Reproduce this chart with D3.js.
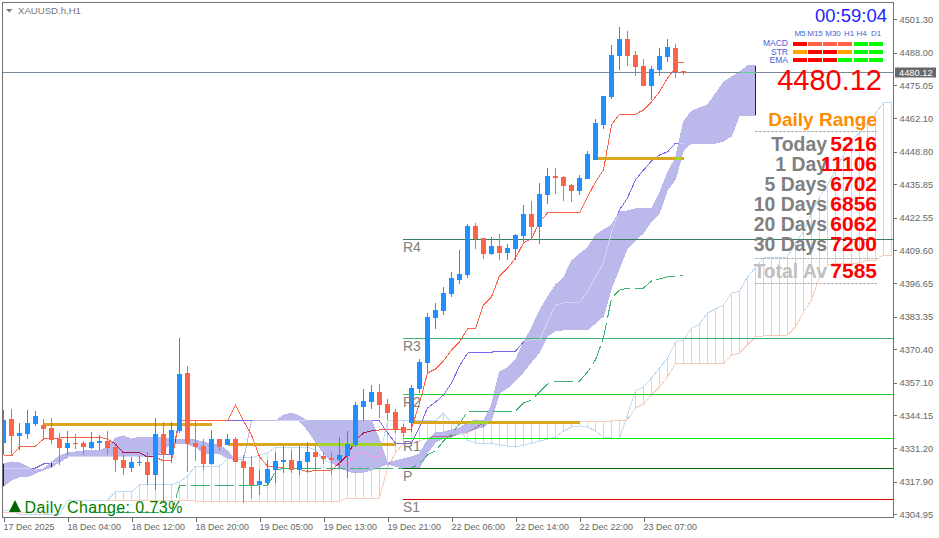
<!DOCTYPE html>
<html><head><meta charset="utf-8">
<script src="https://cdn.jsdelivr.net/npm/d3@7"></script>
<style>
html,body{margin:0;padding:0;background:#fff;overflow:hidden}
svg{display:block}
text{font-family:"Liberation Sans",Arial,sans-serif}
.axis text{fill:#666;font-size:9.3px}
.axis.bottom text{font-size:9px}
.axis line{stroke:#707070;shape-rendering:crispEdges}
</style></head><body>
<script>
const symbolTitle = "XAUUSD.h,H1";
const dailyChange = "Daily Change: 0.73%";
const timerText = "00:59:04";
const lastPrice = 4480.12;
const yTicks = [4501.30,4488.00,4475.05,4462.10,4448.80,4435.85,4422.55,4409.60,4396.65,4383.35,4370.40,4357.10,4344.15,4331.20,4317.90,4304.95];
const xTickIndex = [0,8,16,24,32,40,48,56,64,72,80];
const xTickLabels = ["17 Dec 2025","18 Dec 04:00","18 Dec 12:00","18 Dec 20:00","19 Dec 05:00","19 Dec 13:00","19 Dec 21:00","22 Dec 06:00","22 Dec 14:00","22 Dec 22:00","23 Dec 07:00"];

const opens = [4333.2,4342.8,4336.0,4336.8,4340.8,4340.4,4339.2,4334.8,4331.3,4333.2,4333.2,4331.3,4333.2,4334.0,4331.7,4326.5,4323.3,4325.3,4325.7,4320.5,4336.8,4328.5,4338.0,4361.0,4333.2,4332.0,4324.9,4334.8,4332.4,4334.8,4326.1,4323.7,4316.6,4317.4,4322.5,4325.7,4326.5,4322.5,4325.7,4329.7,4328.1,4327.3,4326.5,4328.1,4332.4,4347.5,4349.5,4353.5,4348.7,4345.5,4339.6,4341.2,4354.7,4365.0,4382.8,4385.6,4392.3,4397.9,4399.9,4419.3,4414.6,4408.2,4411.4,4408.6,4410.2,4415.3,4424.1,4418.9,4431.6,4439.1,4438.7,4435.6,4433.2,4438.0,4445.5,4459.4,4470.5,4486.8,4493.5,4487.2,4482.8,4474.9,4481.2,4486.4,4489.9,4480.8];
const highs = [4346.3,4346.7,4341.2,4346.3,4345.9,4342.8,4343.1,4337.2,4338.0,4336.8,4334.0,4337.6,4336.4,4338.0,4332.4,4328.9,4327.7,4328.1,4329.7,4343.1,4341.6,4341.6,4374.9,4363.8,4342.0,4334.8,4338.4,4334.8,4336.8,4335.6,4328.5,4328.1,4322.5,4326.5,4329.7,4332.0,4330.5,4332.0,4333.6,4332.0,4329.7,4329.7,4335.6,4338.0,4349.5,4354.7,4356.2,4356.6,4350.7,4346.7,4340.8,4356.2,4366.6,4384.8,4388.8,4395.1,4401.1,4409.8,4420.1,4420.5,4414.6,4415.0,4416.1,4412.2,4416.1,4427.6,4429.2,4436.4,4442.3,4442.3,4439.1,4436.0,4439.5,4449.1,4461.8,4470.9,4491.1,4498.2,4496.7,4488.7,4485.6,4482.8,4489.9,4493.5,4491.5,4480.8];
const lows = [4328.5,4328.1,4330.5,4334.8,4340.0,4334.8,4332.8,4324.5,4328.5,4330.8,4328.5,4330.8,4330.5,4328.5,4321.7,4320.5,4321.7,4324.1,4316.6,4314.6,4309.4,4325.3,4337.2,4321.7,4326.1,4322.5,4324.5,4330.1,4332.4,4325.7,4309.4,4311.4,4312.6,4316.6,4317.4,4321.3,4321.3,4320.5,4321.7,4322.5,4324.9,4320.5,4323.3,4319.4,4331.7,4342.0,4346.7,4343.1,4342.4,4337.2,4335.6,4337.6,4353.1,4361.0,4378.5,4384.0,4391.2,4396.3,4398.7,4410.2,4406.2,4407.8,4405.8,4405.8,4405.8,4413.0,4413.8,4412.2,4428.0,4432.0,4429.2,4428.8,4431.6,4438.0,4445.5,4457.8,4469.7,4481.2,4482.8,4478.8,4474.9,4469.3,4478.8,4484.4,4478.0,4479.2];
const closes = [4342.4,4336.0,4337.2,4341.2,4343.9,4338.8,4334.4,4331.3,4333.2,4332.8,4331.7,4333.6,4334.0,4331.3,4326.5,4323.3,4325.7,4325.7,4320.5,4336.8,4328.5,4338.4,4360.6,4332.8,4331.7,4324.9,4334.8,4331.7,4334.8,4325.7,4323.3,4316.6,4318.2,4322.9,4326.1,4326.5,4322.5,4326.1,4329.7,4327.7,4326.9,4326.5,4328.5,4332.8,4348.3,4349.9,4353.5,4348.3,4345.1,4338.8,4337.2,4355.1,4365.4,4383.2,4386.0,4392.7,4398.7,4400.3,4419.3,4414.2,4408.2,4411.4,4408.6,4410.6,4415.7,4424.1,4418.9,4432.0,4439.1,4438.4,4435.2,4433.2,4438.4,4447.9,4460.2,4470.9,4487.2,4493.5,4486.8,4482.4,4474.9,4481.6,4486.8,4490.3,4480.4,4480.1];

const tenkan = [4328.1,4328.1,4331.6,4332.0,4332.0,4334.8,4335.2,4335.2,4335.6,4335.6,4335.6,4335.6,4335.6,4334.8,4332.8,4329.3,4329.3,4329.3,4327.7,4327.7,4326.1,4326.1,4342.0,4342.0,4342.0,4342.0,4342.0,4342.0,4342.0,4348.3,4342.0,4336.4,4327.7,4324.1,4323.7,4323.3,4323.3,4322.9,4321.7,4322.5,4322.5,4322.5,4325.3,4328.5,4334.4,4337.2,4338.0,4338.4,4338.4,4338.4,4338.4,4338.8,4349.1,4361.0,4362.6,4365.8,4370.1,4373.3,4378.5,4378.8,4388.0,4391.2,4399.5,4402.6,4406.6,4412.6,4414.2,4420.9,4424.5,4424.5,4424.5,4424.5,4424.5,4430.8,4436.8,4441.5,4459.4,4463.7,4463.7,4463.7,4465.3,4468.5,4472.5,4478.0,4482.0];
const kijun = [4323.3,4323.3,4323.3,4323.3,4323.3,4324.9,4325.3,4325.7,4327.7,4327.7,4327.7,4327.7,4327.7,4327.7,4327.7,4327.7,4327.7,4327.7,4327.7,4328.5,4328.5,4328.5,4342.0,4342.0,4342.0,4342.0,4342.0,4342.0,4342.0,4342.0,4342.0,4342.0,4342.0,4342.0,4342.0,4342.0,4342.0,4342.0,4342.0,4342.0,4342.0,4342.0,4342.0,4342.0,4342.0,4342.0,4342.0,4342.0,4337.2,4333.2,4333.2,4333.2,4339.6,4347.1,4349.5,4352.3,4357.0,4363.8,4368.9,4369.3,4369.3,4369.3,4369.5,4369.5,4369.7,4373.3,4374.1,4374.1,4381.2,4388.0,4388.8,4388.8,4389.2,4393.1,4399.1,4404.6,4416.9,4425.7,4430.4,4437.6,4441.5,4445.1,4447.5,4448.7,4452.2,4452.2];
const kijunBlendedBars = [32,45];
const chikouStart = 11;
const chikou = [4305.5,4305.5,4305.5,4305.5,4305.5,4305.5,4305.5,4305.5,4305.5,4305.5,4305.5,4316.2,4316.2,4316.2,4316.2,4316.2,4316.2,4316.2,4316.2,4316.2,4316.2,4316.2,4316.2,4322.1,4323.3,4323.3,4323.3,4323.3,4323.3,4323.3,4323.3,4323.3,4323.3,4323.3,4323.3,4323.3,4323.3,4323.3,4323.3,4323.3,4323.3,4324.9,4328.5,4330.1,4334.0,4336.8,4340.8,4345.9,4345.9,4345.9,4345.9,4345.9,4345.9,4345.9,4349.1,4350.3,4353.5,4356.6,4357.8,4357.8,4357.8,4357.8,4361.4,4366.2,4374.9,4390.7,4393.9,4394.7,4394.7,4394.7,4397.5,4398.3,4399.1,4399.5,4399.9];

const cloudTop = [4324.9,4325.7,4325.3,4323.7,4322.5,4322.9,4325.7,4328.1,4329.3,4329.7,4330.1,4330.1,4330.1,4331.6,4335.2,4336.0,4334.8,4335.6,4335.6,4335.6,4335.2,4334.8,4334.8,4334.8,4334.4,4333.6,4332.8,4332.4,4330.1,4326.5,4326.5,4342.0,4342.0,4342.0,4342.0,4344.3,4345.1,4343.9,4342.0,4342.0,4342.0,4342.0,4342.0,4342.0,4342.0,4342.0,4342.0,4334.4,4325.3,4326.1,4326.9,4327.7,4328.9,4334.4,4337.2,4337.6,4338.4,4339.2,4341.2,4342.4,4342.0,4348.3,4361.4,4363.0,4366.2,4372.9,4378.8,4385.6,4391.1,4395.9,4398.7,4405.4,4408.2,4410.6,4415.7,4417.7,4419.7,4424.9,4425.3,4426.1,4426.1,4426.1,4432.4,4440.3,4446.3,4460.6,4464.9,4466.1,4467.3,4471.7,4476.4,4478.4,4480.4,4482.8,4482.8];
const cloudBottom = [4316.2,4318.6,4319.8,4319.8,4321.3,4322.5,4323.7,4325.7,4327.7,4327.7,4327.7,4327.7,4327.7,4327.7,4327.7,4327.7,4327.7,4327.7,4327.7,4327.7,4330.5,4333.2,4333.2,4332.8,4331.7,4329.3,4328.9,4328.9,4327.3,4326.5,4326.5,4342.0,4342.0,4342.0,4342.0,4342.0,4342.0,4342.0,4338.4,4333.6,4329.3,4325.7,4323.3,4322.1,4321.3,4321.7,4322.5,4323.7,4324.9,4324.1,4323.3,4323.3,4323.3,4329.3,4333.6,4335.2,4335.6,4337.2,4337.6,4338.8,4339.6,4342.4,4353.1,4355.1,4358.2,4361.4,4365.4,4369.3,4375.7,4377.7,4378.1,4378.1,4378.1,4378.1,4380.8,4383.6,4394.7,4402.7,4410.6,4413.8,4416.5,4421.3,4424.5,4433.6,4437.9,4449.5,4452.2,4452.2,4452.2,4452.2,4453.0,4455.0,4463.3,4463.3,4463.3];
const cloudEdgeBars = [0,6,94];

const hatchA = [4306.3,4306.3,4304.7,4304.7,4304.7,4304.7,4304.7,4304.7,4310.6,4310.6,4310.6,4310.6,4310.6,4310.6,4313.8,4313.8,4313.8,4316.6,4316.6,4316.6,4316.6,4316.6,4317.8,4320.1,4324.1,4324.1,4324.1,4324.1,4326.9,4327.7,4327.3,4327.3,4328.5,4329.3,4331.6,4331.6,4331.6,4331.6,4331.6,4330.5,4326.5,4325.3,4324.5,4325.3,4328.5,4329.7,4327.7,4327.7,4342.0,4342.0,4342.0,4342.0,4342.0,4342.0,4342.0,4345.1,4341.2,4338.4,4334.4,4333.2,4333.2,4333.2,4332.4,4332.0,4331.6,4332.4,4333.2,4334.0,4334.8,4335.6,4338.0,4339.6,4340.0,4339.6,4338.0,4335.6,4335.2,4335.2,4344.4,4353.9,4355.5,4359.0,4363.0,4366.9,4373.3,4374.1,4378.8,4380.4,4384.8,4386.4,4388.0,4392.7,4393.5,4399.1,4402.7,4406.6,4407.0,4407.0,4407.0,4412.6,4417.0,4424.5,4430.8,4435.6,4441.5,4447.5,4453.4,4456.2,4460.2,4464.1,4468.1,4468.1];
const hatchB = [4305.5,4305.5,4305.5,4305.5,4305.5,4305.5,4304.7,4304.7,4310.6,4310.6,4310.6,4310.6,4310.6,4310.6,4310.6,4310.6,4310.6,4310.6,4310.6,4310.6,4310.6,4310.6,4310.6,4310.6,4310.2,4310.2,4310.2,4310.2,4310.2,4310.2,4310.2,4310.2,4310.2,4310.2,4310.2,4310.2,4310.2,4310.2,4310.2,4310.2,4310.2,4310.2,4310.2,4311.4,4311.4,4311.4,4311.4,4311.4,4323.3,4329.3,4333.2,4333.2,4334.0,4335.2,4336.0,4336.0,4336.0,4336.8,4337.2,4339.2,4341.2,4341.6,4341.6,4341.6,4341.6,4341.6,4341.6,4341.6,4341.6,4341.6,4341.6,4341.6,4341.6,4341.6,4341.6,4341.6,4342.0,4342.0,4342.4,4347.1,4348.7,4352.3,4355.5,4359.4,4364.6,4364.6,4364.6,4364.6,4364.6,4364.6,4364.6,4368.1,4368.9,4372.1,4375.3,4375.7,4375.7,4375.7,4376.1,4379.2,4385.2,4390.0,4399.1,4403.8,4404.6,4404.6,4404.6,4404.6,4405.8,4405.8,4407.8,4407.8];

const rangeSegStart = [5,28,51,74];
const rangeSegEnd = [26,49,72,85];
const rangeSegPrice = [4340.4,4332.8,4341.4,4445.9];
const prevCloseTick = {from:84,to:85,price:4484.0};

const pivotNames = ["R4","R3","R2","R1","P","S1"];
const pivotPrices = [4413.9,4374.6,4352.6,4335.2,4323.3,4310.8];
const pivotColors = ["#3a7d5e","#3cb371","#32cd32","#00f000","#006400","#e00000"];
const pivotStartBar = 50;

const tfLabels = ["M5","M15","M30","H1","H4","D1"];
const tfLabelX = [800,815,833,849,861.5,876];
const tfBarX = [793,808,823,838,854,869];
const rowLabels = ["MACD","STR","EMA"];
const macdColors = ["#ff0000","#ff6347","#ff6347","#ff6347","#00ff00","#00ff00"];
const strColors = ["#ffa500","#ff0000","#ff0000","#ffa500","#00ff00","#00ff00"];
const emaColors = ["#ff0000","#ff0000","#ff0000","#00ff00","#00ff00","#00ff00"];

const rangeLabels = ["Today","1 Day","5 Days","10 Days","20 Days","30 Days"];
const rangeValues = [5216,11106,6702,6856,6062,7200];
const totalLabel = "Total Av";
const totalValue = 7585;

const W=939,H=538,L=2.5,R=893.5,T=2.5,B=517.5;
const x = d3.scaleLinear().domain([0,111]).range([3.5,891.5]);
const y = d3.scaleLinear().domain([4501.30,4304.95]).range([19.3,514.3]);
const svg = d3.select("body").append("svg").attr("width",W).attr("height",H);
const defs = svg.append("defs");
defs.append("clipPath").attr("id","plot").append("rect").attr("x",L).attr("y",T).attr("width",R-L).attr("height",B-T);

const cloudArea = d3.area().x((d,i)=>x(i)).y0((d,i)=>y(cloudBottom[i])).y1(d=>y(d));
defs.append("clipPath").attr("id","cloud").append("path").attr("d",cloudArea(cloudTop));

const plot = svg.append("g").attr("clip-path","url(#plot)");
const lineOf = (start=0)=>d3.line().x((d,i)=>x(i+start)).y(d=>y(d));

function drawHatch(g,colA,colB,colUp,colDown){
  g.selectAll("line").data(hatchA).join("line")
    .attr("x1",(d,i)=>x(i)).attr("x2",(d,i)=>x(i))
    .attr("y1",d=>y(d)).attr("y2",(d,i)=>y(hatchB[i]))
    .attr("stroke",(d,i)=>d>=hatchB[i]?colUp:colDown)
    .attr("shape-rendering","crispEdges");
  g.append("path").attr("d",lineOf()(hatchB)).attr("fill","none").attr("stroke",colB).attr("shape-rendering","crispEdges");
  g.append("path").attr("d",lineOf()(hatchA)).attr("fill","none").attr("stroke",colA).attr("shape-rendering","crispEdges");
}
drawHatch(plot.append("g"),"#bcdcf8","#f6ccba","#bcdcf8","#f6ccba");

plot.append("path").attr("d",cloudArea(cloudTop)).attr("fill","#bbb8ec").attr("stroke","#bbb8ec")
  .attr("stroke-width",1).attr("shape-rendering","crispEdges");

plot.selectAll(".cedge").data(cloudEdgeBars).join("line").attr("class","cedge")
  .attr("x1",d=>x(d)).attr("x2",d=>x(d)).attr("y1",d=>y(cloudTop[d])).attr("y2",d=>y(cloudBottom[d]))
  .attr("stroke","#222").attr("shape-rendering","crispEdges");

const kijunLine = lineOf().defined((d,i)=>i<kijunBlendedBars[0]||i>kijunBlendedBars[1]);
plot.append("path").attr("d",kijunLine(kijun)).attr("fill","none").attr("stroke","#7b68ee").attr("shape-rendering","crispEdges");
plot.append("path").attr("d",lineOf()(tenkan)).attr("fill","none").attr("stroke","#ff6347").attr("shape-rendering","crispEdges");
plot.append("path").attr("d",lineOf(chikouStart)(chikou)).attr("fill","none").attr("stroke","#3cb371")
  .attr("stroke-dasharray","19 5").attr("shape-rendering","crispEdges");

// pivot lines
plot.append("g").selectAll("line").data(pivotPrices).join("line")
  .attr("x1",x(pivotStartBar)-0.5).attr("x2",R).attr("y1",d=>y(d)).attr("y2",d=>y(d))
  .attr("stroke",(d,i)=>pivotColors[i]).attr("shape-rendering","crispEdges");

// range segments
plot.selectAll(".seg").data(rangeSegPrice).join("line").attr("class","seg")
  .attr("x1",(d,i)=>x(rangeSegStart[i])).attr("x2",(d,i)=>x(rangeSegEnd[i]))
  .attr("y1",d=>y(d)).attr("y2",d=>y(d)).attr("stroke","#daa520").attr("stroke-width",3).attr("shape-rendering","crispEdges");

// marks as they blend where they cross the cloud
const inCloud = plot.append("g").attr("clip-path","url(#cloud)");
drawHatch(inCloud.append("g"),"#ee9fe8","#b0708c","#ee9fe8","#b0708c");
inCloud.append("path").attr("d",lineOf()(kijun)).attr("fill","none").attr("stroke","#d6d4f6").attr("shape-rendering","crispEdges");
inCloud.append("path").attr("d",lineOf()(tenkan)).attr("fill","none").attr("stroke","#a8174f").attr("shape-rendering","crispEdges");
inCloud.selectAll(".seg2").data(rangeSegPrice).join("line").attr("class","seg2")
  .attr("x1",(d,i)=>x(rangeSegStart[i])).attr("x2",(d,i)=>x(rangeSegEnd[i]))
  .attr("y1",d=>y(d)).attr("y2",d=>y(d)).attr("stroke","#a4d42c").attr("stroke-width",3).attr("shape-rendering","crispEdges");

// price line
plot.append("line").attr("x1",L).attr("x2",R).attr("y1",y(lastPrice)).attr("y2",y(lastPrice))
  .attr("stroke","#778899").attr("shape-rendering","crispEdges");
plot.append("line").attr("x1",x(92)).attr("x2",x(94)).attr("y1",y(lastPrice)).attr("y2",y(lastPrice))
  .attr("stroke","#5fd58f").attr("shape-rendering","crispEdges");

// candles
const up = i=>closes[i]>=opens[i];
const candleColor = i=>up(i)?"#1e90ff":"#ff6347";
const cg = plot.append("g").attr("shape-rendering","crispEdges");
cg.selectAll(".wick").data(opens).join("rect").attr("class","wick")
  .attr("x",(d,i)=>x(i)-0.5).attr("width",1)
  .attr("y",(d,i)=>y(highs[i])).attr("height",(d,i)=>y(lows[i])-y(highs[i]))
  .attr("fill",(d,i)=>candleColor(i));
cg.selectAll(".body").data(opens).join("rect").attr("class","body")
  .attr("x",(d,i)=>x(i)-2.5).attr("width",5)
  .attr("y",(d,i)=>y(Math.max(d,closes[i])))
  .attr("height",(d,i)=>Math.max(1,Math.abs(y(d)-y(closes[i]))))
  .attr("fill",(d,i)=>candleColor(i));
plot.append("line").attr("x1",x(prevCloseTick.from)).attr("x2",x(prevCloseTick.to))
  .attr("y1",y(prevCloseTick.price)).attr("y2",y(prevCloseTick.price))
  .attr("stroke","#ff6347").attr("shape-rendering","crispEdges");

// pivot labels
svg.append("g").selectAll("text").data(pivotNames).join("text")
  .attr("x",x(pivotStartBar)-0.5).attr("y",(d,i)=>y(pivotPrices[i])+12.5)
  .attr("fill","#808080").attr("font-size",14).text(d=>d);

// frame
svg.append("rect").attr("x",L).attr("y",T).attr("width",R-L).attr("height",B-T)
  .attr("fill","none").attr("stroke","#707070").attr("shape-rendering","crispEdges");

// axes
const yAxis = d3.axisRight(y).tickValues(yTicks).tickSize(3).tickPadding(3).tickFormat(d3.format(".2f"));
const ag = svg.append("g").attr("class","axis").attr("transform",`translate(${R},0)`).call(yAxis);
ag.select(".domain").remove();
const xAxis = d3.axisBottom(x).tickValues(xTickIndex).tickSize(4).tickPadding(2).tickFormat((d,i)=>xTickLabels[i]);
const bg = svg.append("g").attr("class","axis bottom").attr("transform",`translate(0,${B})`).call(xAxis);
bg.select(".domain").remove();
bg.selectAll("text").attr("text-anchor","start").attr("dx",-0.5);

svg.append("rect").attr("x",895).attr("y",67.5).attr("width",41).attr("height",10).attr("fill","#696969");
svg.append("text").attr("x",899).attr("y",76).attr("fill","#fff").attr("font-size",9.3).text(lastPrice.toFixed(2));

// title
svg.append("path").attr("d",d3.line()([[6,9],[12.5,9],[9.25,12.5]])+"Z").attr("fill","#777");
svg.append("text").attr("x",18).attr("y",13.5).attr("fill","#777").attr("font-size",9.6).text(symbolTitle);

// daily change
svg.append("path").attr("d",d3.line()([[9,512],[21,512],[15,500]])+"Z").attr("fill","#006400");
svg.append("text").attr("x",24.5).attr("y",513).attr("fill","#008000").attr("font-size",16).attr("letter-spacing",0.42).text(dailyChange);

// timer
svg.append("text").attr("x",887).attr("y",22).attr("text-anchor","end").attr("fill","#2222ff").attr("font-size",18.5).text(timerText);

// matrix
svg.append("g").selectAll("text").data(tfLabels).join("text")
  .attr("x",(d,i)=>tfLabelX[i]).attr("y",36).attr("text-anchor","middle")
  .attr("fill","#3f62d8").attr("font-size",8).text(d=>d);
svg.append("g").selectAll("text").data(rowLabels).join("text")
  .attr("x",788).attr("y",(d,i)=>46.3+8.2*i).attr("text-anchor","end")
  .attr("fill","#3f62d8").attr("font-size",8.5).text(d=>d);
[macdColors,strColors,emaColors].forEach((cols,r)=>{
  svg.append("g").attr("shape-rendering","crispEdges").selectAll("rect").data(cols).join("rect")
    .attr("x",(d,i)=>tfBarX[i]).attr("y",42+8*r).attr("width",13.5).attr("height",4).attr("fill",d=>d);
});

// big price
svg.append("text").attr("x",882).attr("y",90).attr("text-anchor","end").attr("fill","#ff0000").attr("font-size",29).text(lastPrice.toFixed(2));

// daily range
svg.append("text").attr("x",877).attr("y",126).attr("text-anchor","end").attr("fill","#ff8c00").attr("font-size",19).attr("font-weight","bold").text("Daily Range");
const dashY = [131.5,258.5,283.5];
svg.append("g").selectAll("line").data(dashY).join("line")
  .attr("x1",755).attr("x2",877).attr("y1",d=>d).attr("y2",d=>d)
  .attr("stroke","#b4b4b4").attr("stroke-dasharray","3 1").attr("shape-rendering","crispEdges");
svg.append("g").selectAll("text").data(rangeLabels).join("text")
  .attr("x",827).attr("y",(d,i)=>150.7+20*i).attr("text-anchor","end").attr("fill","#808080")
  .attr("font-size",19.4).attr("font-weight","bold").text(d=>d);
svg.append("text").attr("x",827).attr("y",277.5).attr("text-anchor","end").attr("fill","#c0c0c0")
  .attr("font-size",19.4).attr("font-weight","bold").text(totalLabel);
svg.append("g").selectAll("text").data(rangeValues).join("text")
  .attr("x",877).attr("y",(d,i)=>151.2+20*i).attr("text-anchor","end").attr("fill","#ff0000")
  .attr("font-size",21).attr("font-weight","bold").text(d=>d);
svg.append("text").attr("x",877).attr("y",277.5).attr("text-anchor","end").attr("fill","#ff0000")
  .attr("font-size",21).attr("font-weight","bold").text(totalValue);
</script>
</body></html>
